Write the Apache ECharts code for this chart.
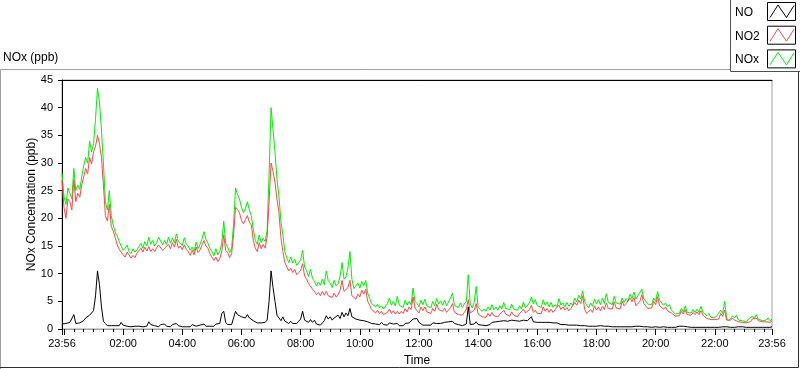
<!DOCTYPE html>
<html><head><meta charset="utf-8">
<script src="https://cdn.jsdelivr.net/npm/echarts@6/dist/echarts.min.js"></script>
<style>html,body{margin:0;padding:0;background:#fff}#c{width:800px;height:369px}</style>
</head><body><div id="c"></div>
<script>
// ---- data (4-minute samples from 23:56 to 23:56 next day) ----
const startLabel = '23:56';
const stepMinutes = 4;
const seriesNames = ['NO', 'NO2', 'NOx'];
const xTickLabels = ['23:56','02:00','04:00','06:00','08:00','10:00','12:00','14:00','16:00','18:00','20:00','22:00','23:56'];
const yTickValues = [0,5,10,15,20,25,30,35,40,45];

const NOx = [28.3,24.0,22.5,25.5,24.5,23.5,29.0,25.0,26.0,25.2,
27.5,29.5,31.0,30.0,34.0,32.0,33.5,38.0,43.5,41.0,
36.0,30.0,23.0,21.5,25.0,20.5,18.7,17.5,16.8,15.8,
15.5,14.2,14.6,15.2,14.0,13.6,14.5,13.9,14.3,14.9,
15.5,14.6,15.8,15.0,16.6,15.3,16.0,15.0,15.6,16.6,
16.3,15.2,16.0,15.3,16.6,15.5,16.4,15.6,17.2,15.8,
16.0,15.1,16.5,15.4,15.0,14.2,14.8,14.0,15.7,14.5,
15.3,16.3,17.6,16.2,15.5,14.6,14.0,13.2,14.5,13.4,
14.0,15.5,19.5,15.5,14.8,13.8,14.5,19.0,25.5,24.3,
23.5,22.0,21.0,21.8,23.0,21.5,20.5,18.0,16.0,15.3,
17.0,15.6,16.4,15.8,17.8,28.0,40.0,36.0,32.0,27.0,
24.0,19.5,17.0,14.0,12.8,12.0,13.0,11.9,12.6,11.5,
11.8,12.5,14.2,11.2,10.5,9.5,10.8,9.2,8.6,7.8,
8.5,7.9,9.0,8.0,10.5,8.7,8.3,7.5,8.8,7.8,
8.2,9.5,12.0,9.0,9.4,11.0,14.0,9.0,7.3,7.0,
8.3,7.4,8.6,7.8,8.8,6.5,5.5,4.6,4.7,4.0,
4.5,3.8,4.2,3.6,3.9,4.6,5.6,4.3,5.0,4.2,
5.9,4.3,4.4,3.9,5.2,4.3,5.0,4.4,7.4,5.0,
4.6,4.0,5.2,4.4,5.4,4.2,4.3,3.8,5.0,4.2,
5.5,4.5,5.1,4.3,5.2,4.2,4.4,5.6,6.5,4.2,
4.5,3.9,4.7,3.9,4.5,5.0,9.8,4.5,3.8,4.8,
7.7,3.9,3.8,3.2,3.6,3.2,4.0,3.4,4.4,3.5,
4.0,3.4,4.2,3.6,4.8,3.7,4.0,3.5,4.5,3.6,
3.9,3.4,4.2,3.6,4.9,3.8,4.1,4.7,5.8,4.5,
5.3,4.2,4.4,3.9,5.3,4.3,4.9,4.0,4.8,3.9,
4.4,4.0,5.5,4.3,4.7,4.0,4.8,4.1,4.7,4.3,
5.6,4.9,6.1,5.4,6.9,5.0,4.3,3.8,4.7,4.1,
5.4,4.5,5.3,4.4,5.6,4.6,6.4,4.8,4.7,4.4,
5.9,4.7,5.0,4.5,5.6,4.8,5.5,5.0,6.3,5.5,
6.7,5.4,6.0,6.1,7.2,5.5,5.6,4.5,4.8,4.4,
5.6,5.0,6.8,5.2,5.3,4.3,4.7,4.0,4.4,3.4,
3.2,2.7,2.9,2.8,3.7,3.1,4.2,3.0,3.3,2.9,
3.5,3.0,3.6,3.0,4.1,3.0,2.8,2.4,2.8,2.1,
2.2,2.0,2.4,2.1,3.4,2.8,5.0,2.0,1.5,1.9,
2.4,2.0,2.5,1.6,1.3,1.5,1.6,1.3,1.8,1.5,
2.3,1.9,2.6,1.8,2.0,1.5,1.6,1.6,2.0,1.5,
1.8];

const NO2 = [27.0,22.0,20.0,23.5,23.0,21.5,27.0,23.0,24.5,23.8,
26.0,27.5,29.0,28.0,31.0,29.8,32.0,33.0,35.0,33.5,
31.0,26.0,20.5,19.5,22.5,18.5,17.7,16.5,15.2,14.4,
14.5,13.4,13.0,13.9,13.4,12.8,13.3,12.9,13.7,14.0,
14.6,13.9,14.8,14.1,14.9,14.0,14.5,14.0,14.7,15.2,
15.0,14.2,14.6,14.4,15.3,14.5,15.6,14.8,16.2,14.6,
15.0,14.3,15.2,14.4,14.0,13.3,14.2,13.4,14.8,13.8,
14.3,15.2,16.0,15.0,14.6,13.6,13.3,12.4,13.0,12.2,
12.7,14.0,17.0,14.2,13.8,12.9,13.6,17.0,22.0,21.6,
21.0,19.6,19.0,19.8,20.5,19.3,18.8,16.0,14.6,14.0,
15.6,14.5,15.3,14.6,16.6,23.0,30.0,28.5,26.5,23.5,
21.0,16.5,14.0,12.0,11.2,10.5,11.0,10.2,10.8,9.8,
10.2,10.6,11.8,9.6,9.0,8.2,8.0,7.2,6.8,6.2,
6.6,6.0,6.8,6.1,6.8,6.0,6.3,5.7,6.5,5.8,
6.2,7.0,8.8,6.8,6.7,7.5,8.8,6.0,5.8,5.4,
6.3,5.8,7.0,6.3,7.2,5.0,4.3,3.5,3.5,2.9,
3.4,2.8,3.2,2.6,2.6,3.0,3.6,2.8,3.3,2.7,
3.2,2.7,3.2,2.8,3.7,3.1,4.0,3.5,5.8,3.8,
3.3,2.9,4.0,3.3,4.0,3.1,3.2,2.8,3.7,3.2,
4.5,3.5,3.8,3.2,3.8,3.0,3.1,3.9,4.6,3.0,
3.0,2.6,2.9,2.5,3.0,3.6,5.3,2.9,2.6,3.4,
4.6,2.7,2.6,2.2,2.4,2.1,2.8,2.3,3.0,2.4,
2.6,2.2,2.7,2.4,3.4,2.7,2.6,2.3,3.1,2.5,
2.6,2.2,2.8,2.5,3.6,2.9,3.0,3.5,4.3,3.0,
3.4,2.8,3.1,2.8,4.0,3.2,3.7,3.0,3.6,3.0,
3.5,3.2,4.3,3.5,4.0,3.4,3.9,3.3,3.7,3.5,
4.8,4.3,5.2,4.6,6.0,3.6,2.8,2.6,3.5,3.0,
4.2,3.4,4.0,3.3,4.1,3.5,4.7,3.7,3.9,3.6,
4.9,3.8,3.8,3.6,5.0,4.2,4.6,4.4,5.6,4.9,
5.7,4.2,4.0,5.0,6.2,4.6,4.8,3.7,4.0,3.8,
5.0,4.4,5.8,4.2,4.5,3.6,4.0,3.3,3.6,2.9,
2.8,2.3,2.5,2.4,3.2,2.7,3.5,2.6,2.8,2.5,
3.0,2.6,3.1,2.6,3.3,2.5,2.2,1.9,2.0,1.7,
1.9,1.7,2.0,1.8,2.8,2.3,3.4,1.6,1.4,1.6,
2.0,1.6,1.8,1.3,1.2,1.2,1.3,1.1,1.4,1.3,
1.8,1.5,2.0,1.5,1.7,1.3,1.3,1.3,1.6,1.2,
1.5];

const NO = [0.9,0.6,1.0,0.8,1.2,1.5,2.6,1.0,0.8,1.1,
1.4,1.5,2.0,1.7,2.5,2.2,3.3,6.0,10.5,8.0,
4.0,1.4,1.0,0.6,0.8,0.6,0.9,0.6,0.8,0.6,
1.2,0.7,0.6,0.5,0.7,0.4,0.6,0.5,0.8,0.5,
0.6,0.4,0.7,0.5,1.3,0.8,1.0,0.6,0.7,0.4,
0.8,0.5,0.9,0.5,0.6,0.4,0.8,0.5,1.0,0.6,
0.6,0.4,0.7,0.4,0.6,0.4,0.8,0.5,0.5,0.3,
0.7,0.4,0.9,0.5,0.8,0.5,0.7,0.5,0.9,0.6,
1.0,2.8,3.2,1.2,0.8,0.6,0.8,2.0,3.2,2.6,
2.9,2.2,2.0,2.0,2.6,2.0,2.2,1.5,1.4,1.1,
1.3,1.1,1.4,1.2,1.6,5.0,10.5,7.5,5.0,2.5,
2.0,1.5,2.2,1.4,1.4,1.0,1.4,1.0,1.3,1.0,
1.4,1.8,3.2,1.6,1.8,1.2,1.7,1.2,1.6,0.9,
1.0,0.7,1.1,1.5,2.4,1.8,2.2,1.6,2.0,1.7,
2.5,1.9,3.0,2.2,2.9,2.4,3.7,2.2,2.5,1.8,
2.0,1.6,1.9,1.5,1.8,1.3,1.5,1.0,1.2,0.9,
1.1,0.8,1.2,0.8,1.0,0.7,1.1,0.8,0.9,0.6,
1.0,0.6,0.8,0.6,1.0,0.7,1.1,1.4,1.8,1.5,
1.9,1.2,1.0,0.7,0.9,0.7,1.0,0.7,1.1,0.8,
1.0,0.7,1.0,0.8,1.2,0.9,1.3,1.0,1.4,1.0,
1.2,0.8,0.9,0.6,0.8,0.9,4.0,0.8,1.0,0.9,
1.3,0.8,0.9,0.7,0.8,0.6,0.9,0.8,1.2,1.0,
1.3,1.1,1.4,1.2,1.5,1.2,1.4,1.3,1.6,1.3,
1.5,1.3,1.4,1.2,1.6,1.3,1.5,1.3,2.2,1.3,
1.5,1.2,1.4,1.2,1.5,1.2,1.4,1.2,1.3,1.1,
1.4,1.1,1.0,0.8,1.0,0.8,0.9,0.7,0.9,0.7,
0.9,0.7,0.8,0.6,0.8,0.6,0.7,0.5,0.7,0.5,
0.7,0.5,0.8,0.6,0.7,0.5,0.6,0.5,0.6,0.4,
0.5,0.4,0.6,0.4,0.5,0.4,0.6,0.4,0.5,0.4,
0.6,0.5,0.7,0.5,0.6,0.4,0.5,0.4,0.5,0.3,
0.5,0.4,0.5,0.3,0.5,0.4,0.4,0.3,0.4,0.3,
0.4,0.3,0.4,0.5,0.7,0.5,0.6,0.4,0.4,0.3,
0.4,0.3,0.4,0.3,0.4,0.3,0.4,0.3,0.4,0.3,
0.4,0.3,0.4,0.3,0.5,0.4,0.6,0.4,0.4,0.3,
0.4,0.3,0.5,0.4,0.5,0.4,0.5,0.3,0.4,0.3,
0.4,0.3,0.4,0.3,0.4,0.3,0.4,0.3,0.4,0.3,
0.4];

// ---- helpers ----
const FONT = '"Liberation Sans", Arial, sans-serif';
const colors = { NO: '#000000', NO2: '#ff4646', NOx: '#00f000' };
const valuesByName = { NO: NO, NO2: NO2, NOx: NOx };
const span = 1440;
function toMin(lbl) { const p = lbl.split(':'); return (+p[0]) * 60 + (+p[1]); }
const startMin = toMin(startLabel);
function relMin(lbl, idx, arr) {
  let r = (toMin(lbl) - startMin + 1440) % 1440;
  if (r === 0 && idx === arr.length - 1) r = span;
  return r;
}
const labelPos = xTickLabels.map(relMin);
const labelMap = {}; labelPos.forEach((p, i) => labelMap[p] = xTickLabels[i]);
const majorTicks = [0, span];
for (let m = (1440 - startMin) % 120; m < span; m += 120) majorTicks.push(m);
const minorTicks = [];
for (let m = (1440 - startMin) % 20; m < span; m += 20) if (majorTicks.indexOf(m) < 0) minorTicks.push(m);

function toPairs(arr) { return arr.map((v, i) => [i * stepMinutes, v]); }

const chart = echarts.init(document.getElementById('c'), null, { renderer: 'canvas' });

const drawOrder = ['NOx', 'NO2', 'NO'];
const series = drawOrder.map(n => ({
  name: n, type: 'line', xAxisIndex: 0, yAxisIndex: 0,
  data: toPairs(valuesByName[n]), showSymbol: false, symbol: 'none',
  lineStyle: { color: colors[n], width: 1 }, itemStyle: { color: colors[n] },
  silent: true, animation: false
}));

// legend drawn as graphic (box with zigzag)
const legendGraphic = [];
legendGraphic.push({ type: 'rect', shape: { x: 730.5, y: -2, width: 72, height: 73.5 },
  style: { fill: '#fff', stroke: '#505050', lineWidth: 1 }, z: 10 });
seriesNames.forEach((n, k) => {
  const y0 = 2.5 + k * 23.7;
  legendGraphic.push({ type: 'text', x: 735, y: y0 + 10, z: 11,
    style: { text: n, font: '12px ' + FONT, fill: '#000', verticalAlign: 'middle', align: 'left' } });
  legendGraphic.push({ type: 'rect', shape: { x: 767.5, y: y0, width: 28, height: 18 }, z: 11,
    style: { fill: '#fff', stroke: '#000', lineWidth: 1 } });
  legendGraphic.push({ type: 'polyline', z: 12,
    shape: { points: [[770, y0 + 15], [778, y0 + 2.5], [786.5, y0 + 15], [794, y0 + 3]] },
    style: { stroke: colors[n], lineWidth: 1, fill: null } });
});

const option = {
  animation: false,
  backgroundColor: '#fff',
  title: { text: 'NOx (ppb)', left: 3, top: 52, padding: 0,
    textStyle: { fontSize: 12, fontWeight: 'normal', fontFamily: FONT, color: '#000' } },
  grid: { left: 62, right: 28, top: 80, bottom: 40, show: true, borderColor: '#a0a0a0', borderWidth: 1,
    backgroundColor: 'transparent', containLabel: false, outerBoundsMode: 'none' },
  xAxis: [
    { type: 'value', min: 0, max: span, position: 'bottom',
      name: 'Time', nameLocation: 'middle', nameGap: 26, nameMoveOverlap: false,
      nameTextStyle: { fontSize: 12, fontFamily: FONT, color: '#000' },
      axisLine: { show: true, lineStyle: { color: '#a0a0a0', width: 1 } },
      axisTick: { show: true, customValues: majorTicks, length: 6, lineStyle: { color: '#000' } },
      axisLabel: { show: true, customValues: labelPos, formatter: v => labelMap[v] || '',
        fontSize: 11, fontFamily: FONT, color: '#000', margin: 9, showMinLabel: true, showMaxLabel: true },
      splitLine: { show: false } },
    { type: 'value', min: 0, max: span, position: 'bottom',
      axisLine: { show: false },
      axisTick: { show: true, customValues: minorTicks, length: 3, lineStyle: { color: '#000' } },
      axisLabel: { show: false }, splitLine: { show: false } },
    { type: 'value', min: 0, max: span, position: 'top',
      axisLine: { show: true, lineStyle: { color: '#000', width: 1 } },
      axisTick: { show: false }, axisLabel: { show: false }, splitLine: { show: false } }
  ],
  yAxis: [{
    type: 'value', min: yTickValues[0], max: yTickValues[yTickValues.length - 1], interval: 5,
    name: 'NOx Concentration (ppb)', nameLocation: 'middle', nameGap: 24, nameMoveOverlap: false,
    nameTextStyle: { fontSize: 12, fontFamily: FONT, color: '#000' },
    axisLine: { show: true, lineStyle: { color: '#000', width: 1 } },
    axisTick: { show: true, length: 4, lineStyle: { color: '#000' } },
    axisLabel: { fontSize: 11, fontFamily: FONT, color: '#000', margin: 9 },
    splitLine: { show: false }
  }],
  series: series,
  graphic: [
    { type: 'polyline', shape: { points: [[0.5, 369], [0.5, 69.5], [731, 69.5]] },
      style: { stroke: '#a0a0a0', lineWidth: 1, fill: null } },
    { type: 'polyline', shape: { points: [[0, 367.5], [798.5, 367.5], [798.5, 71]] },
      style: { stroke: '#303030', lineWidth: 1, fill: null } }
  ].concat(legendGraphic)
};
chart.setOption(option);
</script>
</body></html>
